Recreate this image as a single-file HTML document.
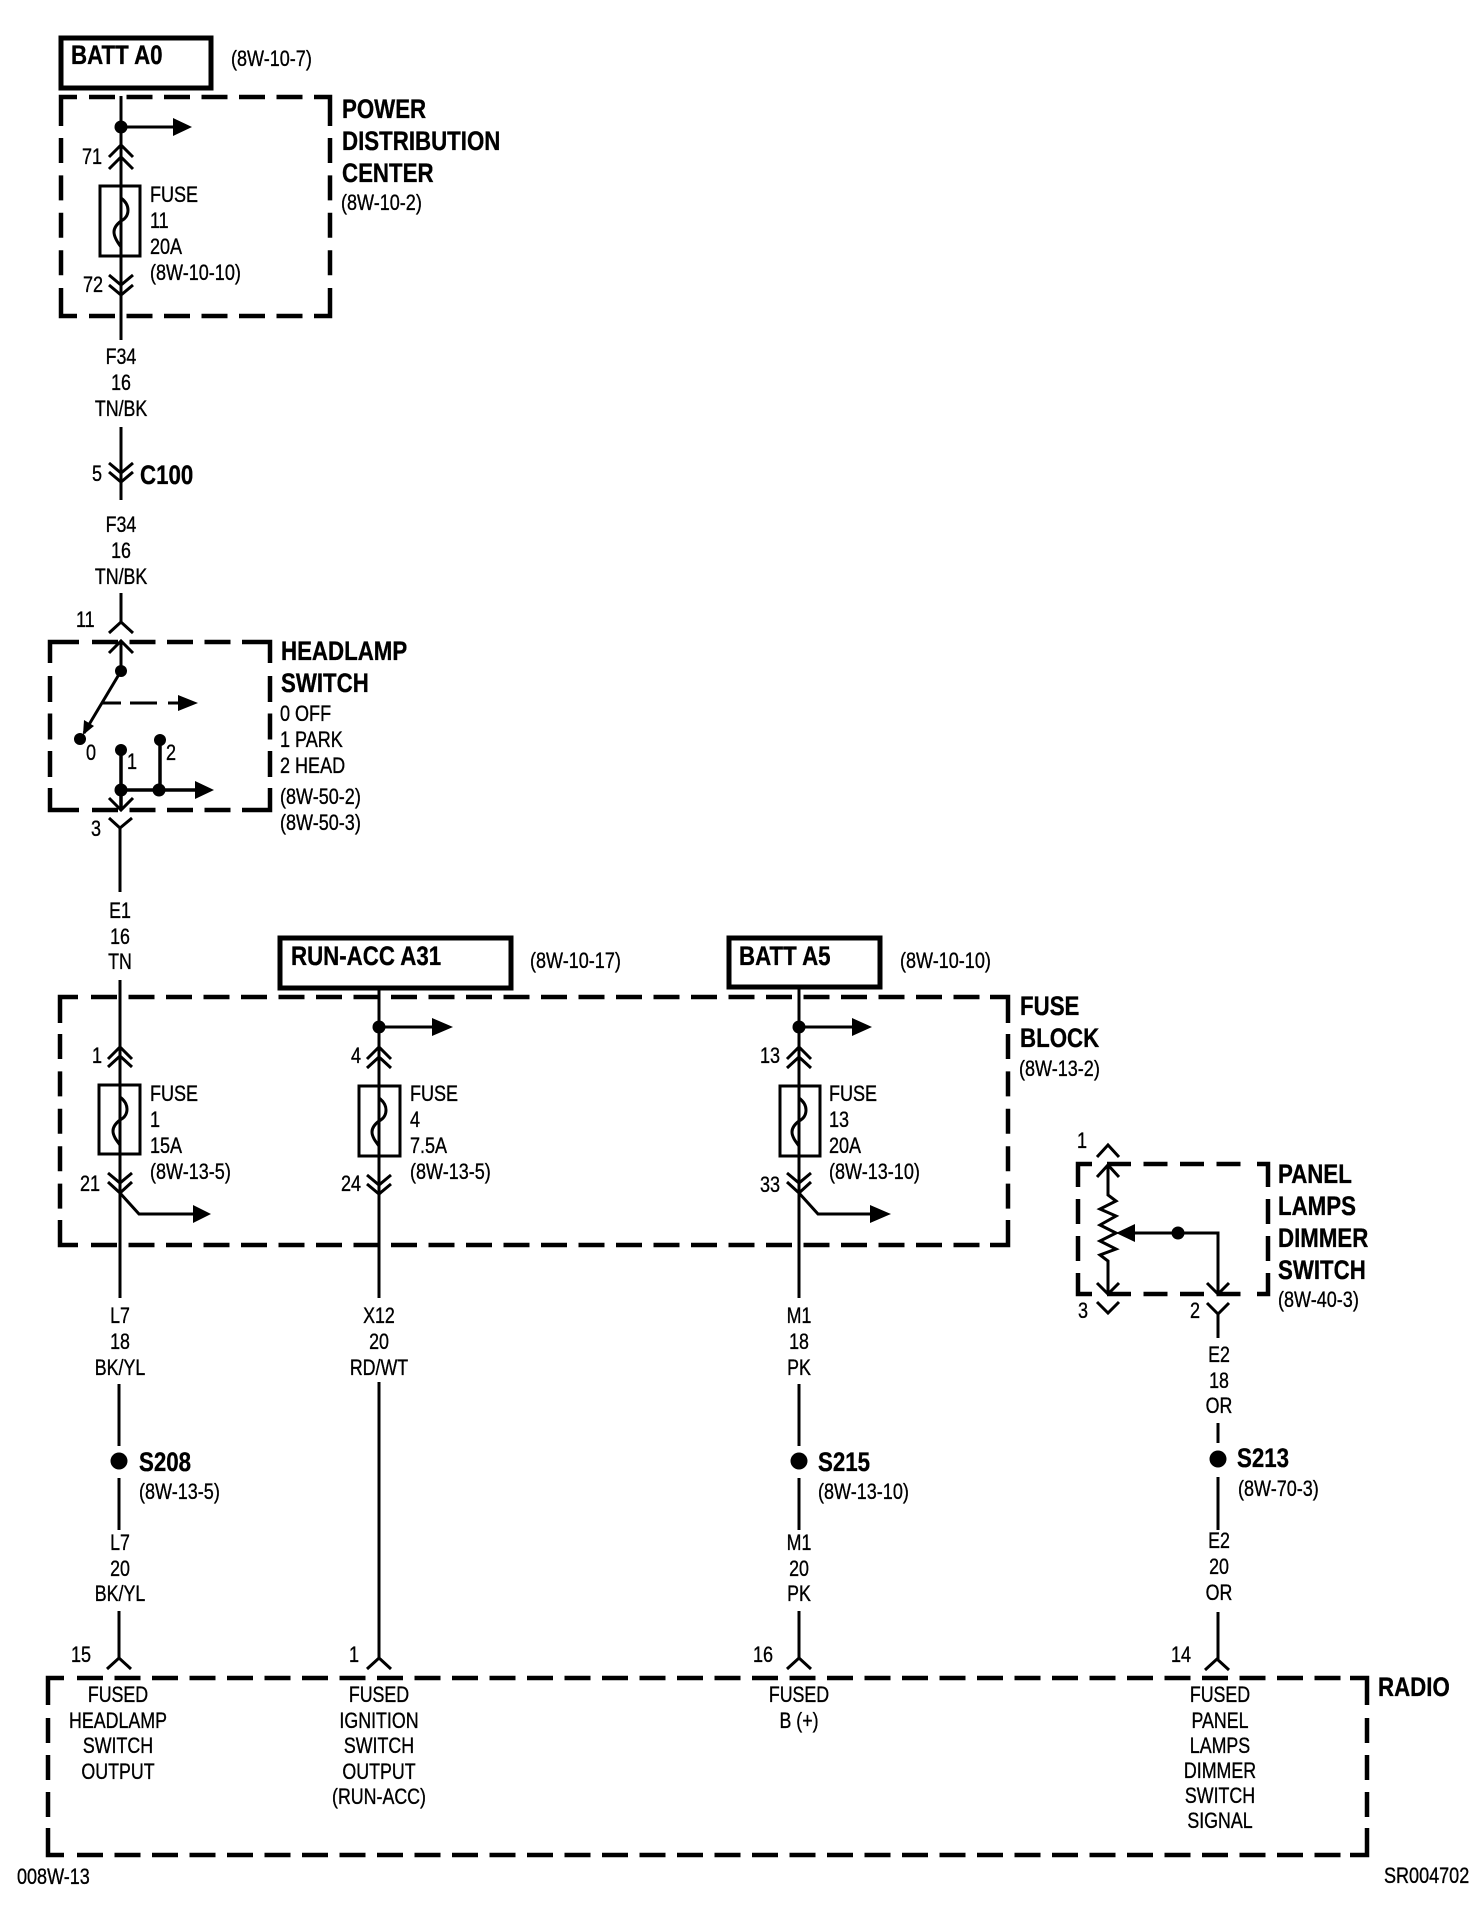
<!DOCTYPE html>
<html><head><meta charset="utf-8"><style>
html,body{margin:0;padding:0;background:#fff}
svg{display:block}
text{font-family:"Liberation Sans",sans-serif;fill:#000;transform-box:fill-box;transform-origin:0% 50%}
.r{font-size:22px;transform:scaleX(.82);stroke:#000;stroke-width:.35px}
.c{font-size:22px;text-anchor:middle;transform-origin:50% 50%;transform:scaleX(.81);stroke:#000;stroke-width:.35px}
.b{font-size:27px;font-weight:bold;transform:scaleX(.825);stroke:#000;stroke-width:.35px}
.k{fill:none;stroke:#000;stroke-width:4.5}
.d{fill:none;stroke:#000;stroke-width:4.5;stroke-dasharray:26 11.5}
.v{fill:none;stroke:#000;stroke-width:4.5;stroke-dasharray:25 12.4}
.w{fill:none;stroke:#000;stroke-width:3}
.t{fill:none;stroke:#000;stroke-width:3.5}
.x{fill:none;stroke:#000;stroke-width:5}
</style></head><body>
<svg width="1472" height="1910" viewBox="0 0 1472 1910" xmlns="http://www.w3.org/2000/svg">
<rect width="1472" height="1910" fill="#fff"/>

<!-- PDC box -->
<path class="k" d="M61 126V97H77M314 97H330V126M61 288V316H77M314 316H330V288"/>
<path class="d" d="M89 97H306M89 316H306"/>
<path class="v" d="M61 138V280M330 138V280"/>
<!-- Headlamp box -->
<path class="k" d="M50 663V642H79M242 642H270V663M50 788V810H79M242 810H270V788"/>
<path class="d" d="M92 642H235M92 810H235"/>
<path class="d" d="M50 676V778M270 676V778"/>
<!-- Fuse block -->
<path class="k" d="M60 1023V997H78M990 997H1008V1023M60 1220V1245H78M990 1245H1008V1220"/>
<path class="d" d="M91 997H983M91 1245H983"/>
<path class="v" d="M60 1034V1210M1008 1034V1210"/>
<!-- Panel box -->
<path class="k" d="M1078 1187V1164H1092M1257 1164H1268V1187M1078 1273V1294H1092M1257 1294H1268V1273"/>
<path class="k" style="stroke-dasharray:24 12.5" d="M1107 1164H1245M1107 1294H1245"/>
<path class="k" style="stroke-dasharray:25 12" d="M1078 1199V1262M1268 1199V1262"/>
<!-- Radio box -->
<path class="k" d="M48 1705V1678H64M1350 1678H1367V1705M48 1828V1855H64M1350 1855H1367V1828"/>
<path class="d" d="M77 1678H1341M77 1855H1341"/>
<path class="k" style="stroke-dasharray:25 12" d="M48 1718V1818M1367 1718V1818"/>

<!-- Solid label boxes -->
<rect class="x" x="61" y="38" width="150" height="50"/>
<rect class="x" x="280" y="938" width="231" height="50"/>
<rect class="x" x="729" y="938" width="151" height="49"/>

<!-- PDC -->
<path class="w" d="M121 96V340M121 127H175"/>
<circle cx="121" cy="127" r="6.5"/><polygon points="173,118 192,127 173,136"/>
<path class="w" d="M109 157L121 145L133 157M109 169L121 157L133 169"/>
<rect class="w" x="100" y="186" width="40" height="70"/>
<path class="w" d="M121 186V198C125 201 128 205 128 210C128 216 125 219 121 221C117 224 114 228 114 232C114 237 118 243 121 247V256"/>
<path class="w" d="M109 275L121 285L133 275M109 285L121 295L133 285"/>
<path class="w" d="M121 427V500M109 463L121 473L133 463M109 472L121 482L133 472"/>

<!-- Headlamp switch -->
<path class="w" d="M121 593V622M109 633L121 622L133 633M109 653L121 641L133 653M121 641V671"/>
<circle cx="121" cy="671" r="6"/><circle cx="80" cy="739" r="6"/>
<path class="w" d="M121 671L84 733"/><polygon points="83,735 84,720 94,726"/>
<path class="w" d="M102 703H121M130 703H157M168 703H180"/><polygon points="178,695 198,703 178,711"/>
<circle cx="121" cy="750" r="6"/><circle cx="160" cy="740" r="6"/>
<path class="t" d="M121 750V810M160 740V790M121 790H197"/>
<circle cx="121" cy="790" r="6.5"/><circle cx="159" cy="790" r="6.5"/>
<polygon points="195,781 214,790 195,799"/>
<path class="w" d="M109 798L121 810L133 798M109 818L120 828L132 818M120 828V892"/>

<!-- Fuse 1 -->
<path class="w" d="M120 980V1298M108 1059L120 1047L132 1059M108 1067L120 1056L132 1067"/>
<rect class="w" x="99" y="1085" width="41" height="69"/>
<path class="w" d="M120 1085V1097C124 1100 127 1104 127 1109C127 1115 124 1118 120 1120C116 1123 113 1127 113 1131C113 1136 117 1141 120 1145V1154"/>
<path class="w" d="M108 1173L120 1183L132 1173M108 1182L120 1193L132 1182"/>
<path class="w" d="M120 1193L139 1214H195"/><polygon points="193,1205 211,1214 193,1223"/>
<path class="w" d="M119 1384V1446M119 1478V1530M119 1611V1658M107 1669L119 1658L131 1669"/>
<circle cx="119" cy="1461" r="8.5"/>

<!-- Fuse 4 -->
<path class="w" d="M379 989V1298M379 1027H434M367 1059L379 1047L391 1059M367 1068L379 1057L391 1068"/>
<circle cx="379" cy="1027" r="6.5"/><polygon points="432,1018 453,1027 432,1036"/>
<rect class="w" x="359" y="1086" width="41" height="70"/>
<path class="w" d="M379 1086V1098C383 1101 386 1105 386 1110C386 1116 383 1119 379 1121C375 1124 372 1128 372 1132C372 1137 376 1142 379 1146V1156"/>
<path class="w" d="M367 1175L379 1185L391 1175M367 1184L379 1194L391 1184"/>
<path class="w" d="M379 1382V1658M367 1669L379 1658L391 1669"/>

<!-- Fuse 13 -->
<path class="w" d="M799 989V1298M799 1027H854M787 1059L799 1047L811 1059M787 1068L799 1057L811 1068"/>
<circle cx="799" cy="1027" r="6.5"/><polygon points="852,1018 872,1027 852,1036"/>
<rect class="w" x="780" y="1086" width="40" height="70"/>
<path class="w" d="M799 1086V1098C803 1101 806 1105 806 1110C806 1116 803 1119 799 1121C795 1124 792 1128 792 1132C792 1137 796 1142 799 1146V1156"/>
<path class="w" d="M787 1173L799 1183L811 1173M787 1182L799 1193L811 1182"/>
<path class="w" d="M799 1193L818 1214H872"/><polygon points="870,1205 891,1214 870,1223"/>
<path class="w" d="M799 1384V1446M799 1478V1530M799 1611V1658M787 1669L799 1658L811 1669"/>
<circle cx="799" cy="1461" r="8.5"/>

<!-- Panel lamps dimmer -->
<path class="w" d="M1097 1157L1108 1145L1119 1157M1097 1177L1108 1165L1119 1177M1108 1165V1195L1116 1201L1100 1209L1116 1216L1100 1225L1116 1233L1100 1241L1116 1249L1100 1255L1108 1261V1294M1097 1283L1108 1294L1119 1283M1097 1302L1108 1313L1119 1302"/>
<polygon points="1116,1233 1135,1224 1135,1242"/>
<path class="w" d="M1133 1233H1218V1294M1207 1283L1218 1294L1229 1283M1207 1303L1218 1314L1229 1303M1218 1314V1338M1218 1423V1443M1218 1477V1530M1218 1612V1659M1205 1670L1217 1659L1229 1670"/>
<circle cx="1178" cy="1233" r="6.5"/><circle cx="1218" cy="1459" r="8.5"/>

<!-- Bold labels -->
<text class="b" x="71" y="64">BATT A0</text>
<text class="b" x="342" y="118">POWER</text>
<text class="b" x="342" y="150">DISTRIBUTION</text>
<text class="b" x="342" y="182">CENTER</text>
<text class="b" x="140" y="484">C100</text>
<text class="b" x="281" y="660">HEADLAMP</text>
<text class="b" x="281" y="692">SWITCH</text>
<text class="b" x="291" y="965">RUN-ACC A31</text>
<text class="b" x="739" y="965">BATT A5</text>
<text class="b" x="1020" y="1015">FUSE</text>
<text class="b" x="1020" y="1047">BLOCK</text>
<text class="b" x="1278" y="1183">PANEL</text>
<text class="b" x="1278" y="1215">LAMPS</text>
<text class="b" x="1278" y="1247">DIMMER</text>
<text class="b" x="1278" y="1279">SWITCH</text>
<text class="b" x="139" y="1471">S208</text>
<text class="b" x="818" y="1471">S215</text>
<text class="b" x="1237" y="1467">S213</text>
<text class="b" x="1378" y="1696">RADIO</text>

<!-- Regular left-anchored -->
<text class="r" x="231" y="66">(8W-10-7)</text>
<text class="r" x="341" y="210">(8W-10-2)</text>
<text class="r" x="82" y="164">71</text>
<text class="r" x="83" y="292">72</text>
<text class="r" x="150" y="202">FUSE</text>
<text class="r" x="150" y="228">11</text>
<text class="r" x="150" y="254">20A</text>
<text class="r" x="150" y="280">(8W-10-10)</text>
<text class="r" x="92" y="481">5</text>
<text class="r" x="76" y="627">11</text>
<text class="r" x="86" y="760">0</text>
<text class="r" x="127" y="769">1</text>
<text class="r" x="166" y="760">2</text>
<text class="r" x="91" y="836">3</text>
<text class="r" x="280" y="721">0 OFF</text>
<text class="r" x="280" y="747">1 PARK</text>
<text class="r" x="280" y="773">2 HEAD</text>
<text class="r" x="280" y="804">(8W-50-2)</text>
<text class="r" x="280" y="830">(8W-50-3)</text>
<text class="r" x="530" y="968">(8W-10-17)</text>
<text class="r" x="900" y="968">(8W-10-10)</text>
<text class="r" x="1019" y="1076">(8W-13-2)</text>

<text class="r" x="92" y="1063">1</text>
<text class="r" x="80" y="1191">21</text>
<text class="r" x="150" y="1101">FUSE</text>
<text class="r" x="150" y="1127">1</text>
<text class="r" x="150" y="1153">15A</text>
<text class="r" x="150" y="1179">(8W-13-5)</text>

<text class="r" x="351" y="1063">4</text>
<text class="r" x="341" y="1191">24</text>
<text class="r" x="410" y="1101">FUSE</text>
<text class="r" x="410" y="1127">4</text>
<text class="r" x="410" y="1153">7.5A</text>
<text class="r" x="410" y="1179">(8W-13-5)</text>

<text class="r" x="760" y="1063">13</text>
<text class="r" x="760" y="1192">33</text>
<text class="r" x="829" y="1101">FUSE</text>
<text class="r" x="829" y="1127">13</text>
<text class="r" x="829" y="1153">20A</text>
<text class="r" x="829" y="1179">(8W-13-10)</text>

<text class="r" x="1077" y="1148">1</text>
<text class="r" x="1078" y="1318">3</text>
<text class="r" x="1190" y="1318">2</text>
<text class="r" x="1278" y="1307">(8W-40-3)</text>
<text class="r" x="139" y="1499">(8W-13-5)</text>
<text class="r" x="818" y="1499">(8W-13-10)</text>
<text class="r" x="1238" y="1496">(8W-70-3)</text>

<text class="r" x="71" y="1662">15</text>
<text class="r" x="349" y="1662">1</text>
<text class="r" x="753" y="1662">16</text>
<text class="r" x="1171" y="1662">14</text>
<text class="r" x="17" y="1884">008W-13</text>
<text class="r" x="1384" y="1883">SR004702</text>

<!-- Centered wire labels -->
<text class="c" x="121" y="364">F34</text><text class="c" x="121" y="390">16</text><text class="c" x="121" y="416">TN/BK</text>
<text class="c" x="121" y="532">F34</text><text class="c" x="121" y="558">16</text><text class="c" x="121" y="584">TN/BK</text>
<text class="c" x="120" y="918">E1</text><text class="c" x="120" y="944">16</text><text class="c" x="120" y="969">TN</text>
<text class="c" x="120" y="1323">L7</text><text class="c" x="120" y="1349">18</text><text class="c" x="120" y="1375">BK/YL</text>
<text class="c" x="379" y="1323">X12</text><text class="c" x="379" y="1349">20</text><text class="c" x="379" y="1375">RD/WT</text>
<text class="c" x="799" y="1323">M1</text><text class="c" x="799" y="1349">18</text><text class="c" x="799" y="1375">PK</text>
<text class="c" x="1219" y="1362">E2</text><text class="c" x="1219" y="1388">18</text><text class="c" x="1219" y="1413">OR</text>
<text class="c" x="120" y="1550">L7</text><text class="c" x="120" y="1576">20</text><text class="c" x="120" y="1601">BK/YL</text>
<text class="c" x="799" y="1550">M1</text><text class="c" x="799" y="1576">20</text><text class="c" x="799" y="1601">PK</text>
<text class="c" x="1219" y="1548">E2</text><text class="c" x="1219" y="1574">20</text><text class="c" x="1219" y="1600">OR</text>

<!-- Radio pins -->
<text class="c" x="118" y="1702">FUSED</text><text class="c" x="118" y="1728">HEADLAMP</text><text class="c" x="118" y="1753">SWITCH</text><text class="c" x="118" y="1779">OUTPUT</text>
<text class="c" x="379" y="1702">FUSED</text><text class="c" x="379" y="1728">IGNITION</text><text class="c" x="379" y="1753">SWITCH</text><text class="c" x="379" y="1779">OUTPUT</text><text class="c" x="379" y="1804">(RUN-ACC)</text>
<text class="c" x="799" y="1702">FUSED</text><text class="c" x="799" y="1728">B (+)</text>
<text class="c" x="1220" y="1702">FUSED</text><text class="c" x="1220" y="1728">PANEL</text><text class="c" x="1220" y="1753">LAMPS</text><text class="c" x="1220" y="1778">DIMMER</text><text class="c" x="1220" y="1803">SWITCH</text><text class="c" x="1220" y="1828">SIGNAL</text>
</svg>
</body></html>
